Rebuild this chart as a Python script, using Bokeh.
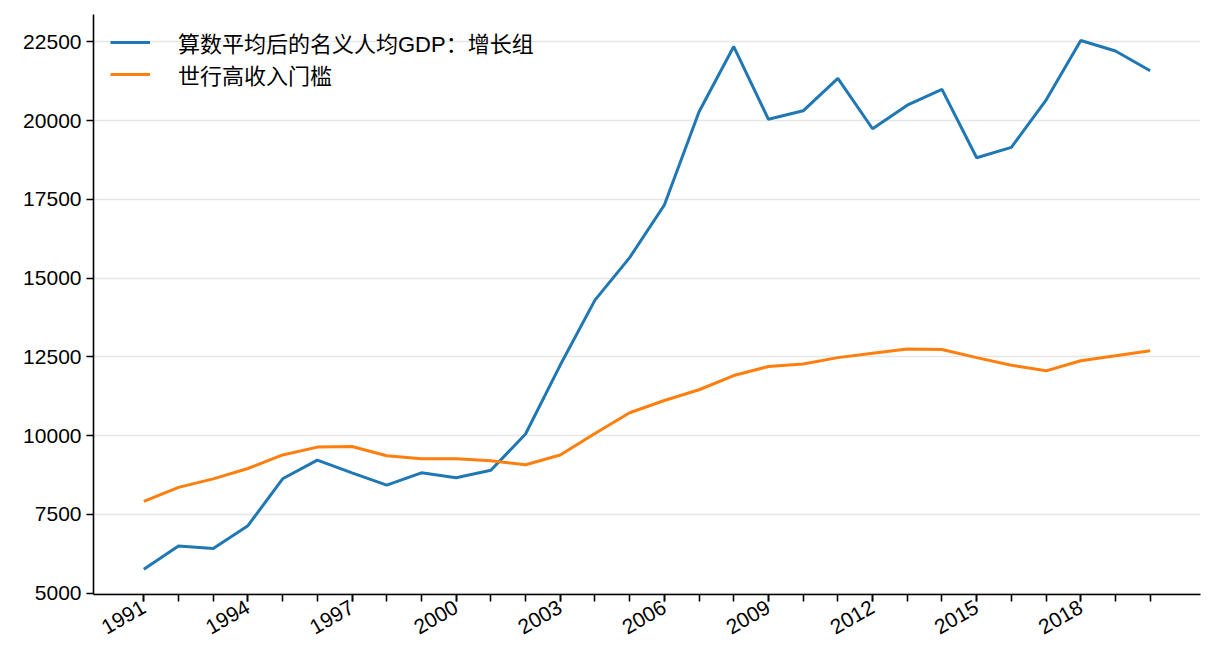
import math

from bokeh.plotting import figure
from bokeh.models import FixedTicker, Range1d, Legend, LegendItem
from bokeh.embed import file_html
from bokeh.resources import INLINE

years = list(range(1991, 2021))

# 算数平均后的名义人均GDP：增长组
growth_gdp = [5760, 6500, 6420, 7140, 8630, 9220, 8820, 8430, 8820, 8660,
              8900, 10050, 12240, 14300, 15650, 17320, 20280, 22350, 20040, 20310,
              21340, 19740, 20490, 20990, 18820, 19150, 20650, 22540, 22210, 21580]

# 世行高收入门槛
high_income = [7911, 8356, 8626, 8956, 9386, 9636, 9656, 9361, 9266, 9266,
               9206, 9076, 9386, 10066, 10726, 11116, 11456, 11906, 12196, 12276,
               12476, 12616, 12746, 12736, 12476, 12236, 12056, 12376, 12536, 12696]

label_years = list(range(1991, 2021, 3))
y_ticks = [5000, 7500, 10000, 12500, 15000, 17500, 20000, 22500]

names = ["算数平均后的名义人均GDP：增长组", "世行高收入门槛"]
colors = ["#1f77b4", "#ff7f0e"]

FONT = "Liberation Sans, Arial, Noto Sans CJK SC"

p = figure(frame_width=1107, frame_height=580,
           min_border_left=93, min_border_top=14, min_border_right=8, min_border_bottom=70,
           x_range=Range1d(1989.55, 2021.45), y_range=Range1d(4957, 23367),
           output_backend="svg", toolbar_location=None)
p.outline_line_color = None
p.background_fill_color = "white"

r1 = p.line(years, growth_gdp, line_color=colors[0], line_width=3)
r2 = p.line(years, high_income, line_color=colors[1], line_width=3)

# legend box pinned by screen offset from the frame's lower-left corner
legend = Legend(items=[LegendItem(label=names[0], renderers=[r1]),
                       LegendItem(label=names[1], renderers=[r2])],
                location=(17, 504))
legend.border_line_color = None
legend.background_fill_alpha = 0
legend.margin = 0
legend.padding = 10
legend.spacing = 0
legend.glyph_width = 40
legend.glyph_height = 12
legend.label_height = 12
legend.label_standoff = 28
legend.label_text_font = FONT
legend.label_text_font_size = "22px"
legend.label_text_color = "black"
p.add_layout(legend)

p.xgrid.grid_line_color = None
p.ygrid.grid_line_color = "#e6e6e6"
p.ygrid.grid_line_width = 1.5

p.xaxis.ticker = FixedTicker(ticks=label_years, minor_ticks=years)
p.yaxis.ticker = FixedTicker(ticks=y_ticks)

for ax in (p.xaxis, p.yaxis):
    ax.axis_line_color = "black"
    ax.axis_line_width = 1.6
    ax.major_tick_line_color = "black"
    ax.major_tick_line_width = 1.6
    ax.major_tick_in = 0
    ax.major_tick_out = 7
    ax.major_label_text_font = FONT
    ax.major_label_text_font_size = "21px"
    ax.major_label_text_color = "black"

p.yaxis.major_label_standoff = 5
p.xaxis.major_label_standoff = 4

p.xaxis.minor_tick_line_color = "black"
p.xaxis.minor_tick_line_width = 1.6
p.xaxis.minor_tick_in = 0
p.xaxis.minor_tick_out = 7
p.yaxis.minor_tick_line_color = None
p.xaxis.major_label_orientation = math.pi / 6

open("out.html", "w").write(file_html(p, INLINE))
